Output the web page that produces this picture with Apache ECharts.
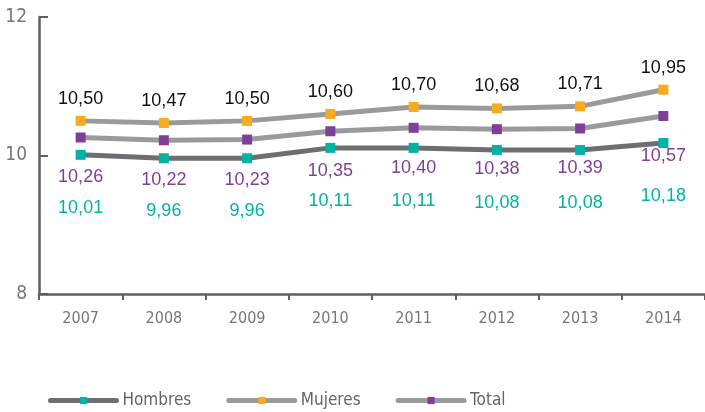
<!DOCTYPE html>
<html>
<head>
<meta charset="utf-8">
<script src="https://cdn.jsdelivr.net/npm/echarts@6/dist/echarts.min.js"></script>
<style>
html, body { margin: 0; padding: 0; background: #fff; }
#chart { width: 705px; height: 412px; }
</style>
</head>
<body>
<div id="chart"></div>
<script>
var years = ['2007', '2008', '2009', '2010', '2011', '2012', '2013', '2014'];
var hombres = [10.01, 9.96, 9.96, 10.11, 10.11, 10.08, 10.08, 10.18];
var mujeres = [10.50, 10.47, 10.50, 10.60, 10.70, 10.68, 10.71, 10.95];
var total = [10.26, 10.22, 10.23, 10.35, 10.40, 10.38, 10.39, 10.57];

var axisFont = "'Liberation Sans Narrow', 'DejaVu Sans Condensed', sans-serif";
var valueFont = "'Liberation Sans', sans-serif";

function fmt(p) {
    return p.value.toFixed(2).replace('.', ',');
}

function makeSeries(name, data, lineColor, markColor, labelColor, offsetY) {
    return {
        name: name,
        type: 'line',
        data: data,
        symbol: 'rect',
        symbolSize: 10,
        lineStyle: { color: lineColor, width: 5, cap: 'round' },
        itemStyle: { color: markColor },
        label: {
            show: true,
            position: 'inside',
            offset: [0, offsetY],
            color: labelColor,
            fontFamily: valueFont,
            fontSize: 18,
            formatter: fmt
        },
        z: 3
    };
}

var myChart = echarts.init(document.getElementById('chart'));

var option = {
    animation: false,
    grid: { left: 39, top: 17, width: 671, height: 277 },
    legend: {
        top: 387,
        left: 43,
        itemWidth: 66,
        itemHeight: 9,
        itemGap: 35,
        lineStyle: { width: 5, cap: 'round' },
        textStyle: { color: '#666', fontFamily: axisFont, fontSize: 17, padding: [0, 0, 0, 1] },
        data: ['Hombres', 'Mujeres', 'Total']
    },
    xAxis: {
        type: 'category',
        data: years,
        boundaryGap: true,
        axisLine: { lineStyle: { color: '#5f5f60', width: 2.5 } },
        axisTick: { show: true, length: 6, lineStyle: { color: '#5f5f60', width: 2 } },
        axisLabel: { color: '#777', fontFamily: axisFont, fontSize: 16, margin: 17 }
    },
    yAxis: {
        type: 'value',
        min: 8,
        max: 12,
        interval: 2,
        splitLine: { show: false },
        axisLine: { show: true, lineStyle: { color: '#5f5f60', width: 2.5 } },
        axisTick: { show: true, inside: true, length: 9, lineStyle: { color: '#5f5f60', width: 2 } },
        axisLabel: { color: '#777', fontFamily: axisFont, fontSize: 19, margin: 12 }
    },
    series: [
        makeSeries('Hombres', hombres, '#6d6e71', '#00b3a4', '#00b3a4', 53),
        makeSeries('Mujeres', mujeres, '#9a9a9c', '#f7ab1d', '#111', -22),
        makeSeries('Total', total, '#9a9a9c', '#7f3f98', '#7f3f98', 40)
    ]
};

option && myChart.setOption(option);
</script>
</body>
</html>
